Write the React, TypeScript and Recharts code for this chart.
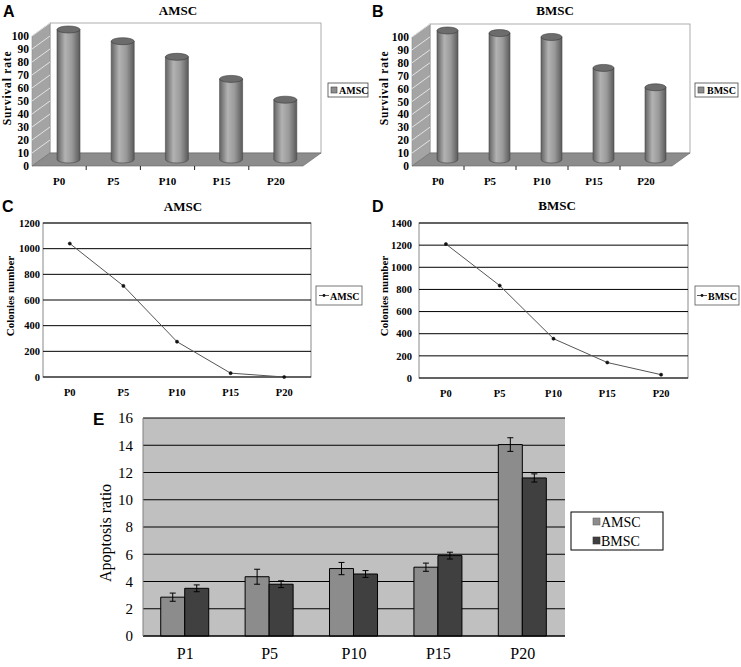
import { Bar, BarChart, CartesianGrid, ErrorBar, Line, LineChart, XAxis, YAxis } from 'recharts'

const passages = ['P0', 'P5', 'P10', 'P15', 'P20']
const amscSurvival = [100, 91, 79, 62, 46]
const bmscSurvival = [100, 98, 95, 71, 56]
const survivalTicks = [0, 10, 20, 30, 40, 50, 60, 70, 80, 90, 100]

const amscColonies = [1040, 710, 275, 30, 0]
const bmscColonies = [1210, 835, 355, 140, 30]
const amscColonyTicks = [0, 200, 400, 600, 800, 1000, 1200]
const bmscColonyTicks = [0, 200, 400, 600, 800, 1000, 1200, 1400]

const apoptosisPassages = ['P1', 'P5', 'P10', 'P15', 'P20']
const amscApoptosis = [2.85, 4.35, 4.95, 5.05, 14.05]
const amscApoptosisErr = [0.3, 0.55, 0.45, 0.3, 0.5]
const bmscApoptosis = [3.5, 3.8, 4.55, 5.9, 11.6]
const bmscApoptosisErr = [0.25, 0.25, 0.25, 0.25, 0.3]
const apoptosisTicks = [0, 2, 4, 6, 8, 10, 12, 14, 16]

const SERIF = '"Liberation Serif", "Times New Roman", serif'
const SANS = '"Liberation Sans", Arial, sans-serif'

// depth of the fake 3d box (back wall offset from the front plane)
const DX = 18
const DY = -13

function Cylinder(props: any) {
  const { x, y, width, height } = props
  if (height == null || isNaN(height)) return null
  const l = x + DX / 2
  const r = l + width
  const top = y + DY / 2
  const bottom = y + height + DY / 2
  const rx = width / 2
  const ry = 3.5
  return (
    <g>
      <path
        d={`M${l},${top} L${l},${bottom} A${rx},${ry} 0 0 0 ${r},${bottom} L${r},${top} Z`}
        fill="url(#cylinderBody)"
        stroke="#4a4a4a"
        strokeWidth={0.6}
      />
      <ellipse cx={l + rx} cy={top} rx={rx} ry={ry} fill="#6c6c6c" stroke="#3a3a3a" strokeWidth={0.6} />
    </g>
  )
}

function Frame3D({ left, top, right, bottom }: { left: number; top: number; right: number; bottom: number }) {
  const yOf = (v: number) => bottom - (v / 100) * (bottom - top)
  const band = (right - left) / passages.length
  return (
    <g>
      <rect x={left + DX} y={top + DY} width={right - left} height={bottom - top} fill="#fff" stroke="#9a9a9a" strokeWidth={0.8} />
      <polygon
        points={`${left},${top} ${left + DX},${top + DY} ${left + DX},${bottom + DY} ${left},${bottom}`}
        fill="#a4a4a4"
        stroke="#8a8a8a"
        strokeWidth={0.6}
      />
      {survivalTicks
        .filter((t) => t > 0)
        .map((t) => (
          <line key={t} x1={left} y1={yOf(t)} x2={left + DX} y2={yOf(t) + DY} stroke="#f4f4f4" strokeWidth={0.8} />
        ))}
      <polygon
        points={`${left},${bottom} ${right},${bottom} ${right + DX},${bottom + DY} ${left + DX},${bottom + DY}`}
        fill="#8c8c8c"
        stroke="#666"
        strokeWidth={0.6}
      />
      {passages.slice(1).map((p, i) => (
        <line key={p} x1={left + band * (i + 1)} y1={bottom} x2={left + band * (i + 1)} y2={bottom + 4} stroke="#222" />
      ))}
    </g>
  )
}

function VLabel({ x, y, text, size, bold, spacing }: { x: number; y: number; text: string; size: number; bold?: boolean; spacing?: number }) {
  return (
    <text
      x={x}
      y={y}
      transform={`rotate(-90 ${x} ${y})`}
      textAnchor="middle"
      dominantBaseline="central"
      fontFamily={SERIF}
      fontWeight={bold ? 'bold' : 'normal'}
      fontSize={size}
      letterSpacing={spacing ?? 0}
      fill="#000"
    >
      {text}
    </text>
  )
}

function SurvivalChart({ values, name, left, yAxisWidth, plotTop, plotWidth, barSize }: any) {
  const data = passages.map((p, i) => ({ passage: p, [name]: values[i] }))
  const width = 330
  return (
    <div style={{ position: 'absolute', left, top: 0 }}>
      <BarChart
        width={width}
        height={166 + 20}
        data={data}
        margin={{ top: plotTop, right: width - yAxisWidth - plotWidth, left: 0, bottom: 0 }}
      >
        <XAxis
          dataKey="passage"
          height={20}
          axisLine={false}
          tickLine={false}
          tickSize={0}
          tickMargin={11}
          tick={{ fontFamily: SERIF, fontWeight: 'bold', fontSize: 11, fill: '#000' }}
        />
        <YAxis
          width={yAxisWidth}
          domain={[0, 100]}
          ticks={survivalTicks}
          interval={0}
          axisLine={false}
          tickLine={false}
          tickSize={0}
          tickMargin={3}
          tick={{ fontFamily: SERIF, fontWeight: 'bold', fontSize: 11.5, fill: '#000' }}
        />
        <Bar dataKey={name} barSize={barSize} shape={<Cylinder />} isAnimationActive={false} />
      </BarChart>
    </div>
  )
}

function ColonyChart({ values, name, ticks, left, yAxisWidth, plotWidth, plotHeight, tickMargin }: any) {
  const data = passages.map((p, i) => ({ passage: p, [name]: values[i] }))
  const max = ticks[ticks.length - 1]
  const pad = plotWidth / passages.length / 2
  return (
    <div style={{ position: 'absolute', left, top: 190 }}>
      <LineChart
        width={yAxisWidth + plotWidth + 6}
        height={33 + plotHeight + 22}
        data={data}
        margin={{ top: 33, right: 6, left: 0, bottom: 0 }}
      >
        <CartesianGrid vertical={false} stroke="#000" strokeWidth={1} />
        <XAxis
          dataKey="passage"
          height={22}
          padding={{ left: pad, right: pad }}
          axisLine={false}
          tickLine={false}
          tickSize={0}
          tickMargin={12}
          tick={{ fontFamily: SERIF, fontWeight: 'bold', fontSize: 10.5, fill: '#000' }}
        />
        <YAxis
          width={yAxisWidth}
          domain={[0, max]}
          ticks={ticks}
          interval={0}
          axisLine={false}
          tickLine={false}
          tickSize={0}
          tickMargin={tickMargin}
          tick={{ fontFamily: SERIF, fontWeight: 'bold', fontSize: 10.5, fill: '#000' }}
        />
        <Line
          type="linear"
          dataKey={name}
          stroke="#555"
          strokeWidth={1}
          dot={{ r: 1.6, fill: '#111', stroke: '#111', strokeWidth: 0.5 }}
          isAnimationActive={false}
        />
      </LineChart>
    </div>
  )
}

function ApoptosisChart() {
  const data = apoptosisPassages.map((p, i) => ({
    passage: p,
    AMSC: amscApoptosis[i],
    amscErr: amscApoptosisErr[i],
    BMSC: bmscApoptosis[i],
    bmscErr: bmscApoptosisErr[i],
  }))
  return (
    <div style={{ position: 'absolute', left: 95, top: 400 }}>
      <BarChart
        width={475}
        height={18 + 218 + 30}
        data={data}
        margin={{ top: 18, right: 5, left: 0, bottom: 0 }}
        barCategoryGap="21%"
        barGap={0}
      >
        <CartesianGrid vertical={false} stroke="#000" strokeWidth={1} fill="#c0c0c0" fillOpacity={1} />
        <XAxis
          dataKey="passage"
          height={30}
          axisLine={{ stroke: '#000' }}
          tickLine={false}
          tickSize={0}
          tickMargin={12}
          tick={{ fontFamily: SERIF, fontSize: 16, fill: '#000' }}
        />
        <YAxis
          width={48}
          domain={[0, 16]}
          ticks={apoptosisTicks}
          interval={0}
          axisLine={{ stroke: '#808080' }}
          tickLine={false}
          tickSize={0}
          tickMargin={10}
          tick={{ fontFamily: SERIF, fontSize: 15, fill: '#000' }}
        />
        <Bar dataKey="AMSC" fill="#8c8c8c" stroke="#000" strokeWidth={1} isAnimationActive={false}>
          <ErrorBar dataKey="amscErr" width={3} stroke="#000" strokeWidth={1} direction="y" />
        </Bar>
        <Bar dataKey="BMSC" fill="#404040" stroke="#000" strokeWidth={1} isAnimationActive={false}>
          <ErrorBar dataKey="bmscErr" width={3} stroke="#000" strokeWidth={1} direction="y" />
        </Bar>
      </BarChart>
    </div>
  )
}

export default function App() {
  const letter = { fontFamily: SANS, fontWeight: 'bold' as const, fontSize: 16, fill: '#000' }
  const title = { fontFamily: SERIF, fontWeight: 'bold' as const, fontSize: 13, fill: '#000', textAnchor: 'middle' as const }
  const legendText = { fontFamily: SERIF, fontWeight: 'bold' as const, fontSize: 10, fill: '#000' }
  return (
    <div style={{ position: 'absolute', left: 0, top: 0, width: 741, height: 667, background: '#fff' }}>
      <svg width={741} height={667} style={{ position: 'absolute', left: 0, top: 0 }}>
        <defs>
          <linearGradient id="cylinderBody" x1="0" y1="0" x2="1" y2="0">
            <stop offset="0%" stopColor="#626262" />
            <stop offset="35%" stopColor="#b2b2b2" />
            <stop offset="65%" stopColor="#9a9a9a" />
            <stop offset="100%" stopColor="#5a5a5a" />
          </linearGradient>
        </defs>

        {/* panel A / B frames */}
        <Frame3D left={32} top={36} right={303} bottom={166} />
        <Frame3D left={412} top={37} right={672} bottom={166} />

        {/* panel C / D plot borders */}
        <rect x={43} y={223} width={268} height={154} fill="none" stroke="#8a8a8a" strokeWidth={1} />
        <rect x={419} y={223} width={269} height={155} fill="none" stroke="#8a8a8a" strokeWidth={1} />

        <text x={3} y={17} {...letter}>A</text>
        <text x={178} y={15} {...title}>AMSC</text>
        <text x={372} y={17} {...letter}>B</text>
        <text x={555} y={15} {...title}>BMSC</text>
        <text x={2} y={212} {...letter}>C</text>
        <text x={183} y={211} {...title}>AMSC</text>
        <text x={372} y={212} {...letter}>D</text>
        <text x={557} y={210} {...title}>BMSC</text>
        <text x={93} y={425} {...letter} fontSize={17}>E</text>

        <VLabel x={7} y={88} text="Survival rate" size={11.5} bold spacing={0.8} />
        <VLabel x={384} y={88} text="Survival rate" size={11.5} bold spacing={0.8} />
        <VLabel x={10} y={296} text="Colonies number" size={11} bold />
        <VLabel x={384} y={296} text="Colonies number" size={11} bold />
        <VLabel x={105} y={533} text="Apoptosis ratio" size={16} />

        {/* legends */}
        <rect x={328} y={83} width={40} height={14} fill="#fff" stroke="#444" strokeWidth={0.8} />
        <rect x={331} y={87} width={6} height={6} fill="#8c8c8c" stroke="#444" strokeWidth={0.6} />
        <text x={339} y={94} {...legendText}>AMSC</text>

        <rect x={695} y={83} width={43} height={14} fill="#fff" stroke="#444" strokeWidth={0.8} />
        <rect x={698} y={87} width={6} height={6} fill="#8c8c8c" stroke="#444" strokeWidth={0.6} />
        <text x={707} y={94} {...legendText}>BMSC</text>

        <rect x={316} y={286} width={46} height={19} fill="#fff" stroke="#555" strokeWidth={0.8} />
        <line x1={319} y1={295.5} x2={329} y2={295.5} stroke="#555" />
        <circle cx={324} cy={295.5} r={1.4} fill="#111" />
        <text x={330} y={299.5} {...legendText}>AMSC</text>

        <rect x={695} y={286} width={44} height={19} fill="#fff" stroke="#555" strokeWidth={0.8} />
        <line x1={697} y1={295.5} x2={707} y2={295.5} stroke="#555" />
        <circle cx={702} cy={295.5} r={1.4} fill="#111" />
        <text x={708} y={299.5} {...legendText}>BMSC</text>

        <rect x={571} y={512} width={92} height={38} fill="#fff" stroke="#000" strokeWidth={1} />
        <rect x={593} y={518} width={7} height={7} fill="#8c8c8c" stroke="#666" strokeWidth={0.6} />
        <text x={601} y={527} fontFamily={SERIF} fontSize={14} fill="#000">AMSC</text>
        <rect x={593} y={537} width={7} height={7} fill="#404040" stroke="#333" strokeWidth={0.6} />
        <text x={601} y={546} fontFamily={SERIF} fontSize={14} fill="#000">BMSC</text>
      </svg>

      <SurvivalChart values={amscSurvival} name="AMSC" left={0} yAxisWidth={32} plotTop={36} plotWidth={271} barSize={23} />
      <SurvivalChart values={bmscSurvival} name="BMSC" left={370} yAxisWidth={42} plotTop={37} plotWidth={260} barSize={21} />

      <ColonyChart values={amscColonies} name="AMSC" ticks={amscColonyTicks} left={0} yAxisWidth={43} plotWidth={268} plotHeight={154} tickMargin={3} />
      <ColonyChart values={bmscColonies} name="BMSC" ticks={bmscColonyTicks} left={370} yAxisWidth={49} plotWidth={269} plotHeight={155} tickMargin={7} />

      <ApoptosisChart />
    </div>
  )
}
